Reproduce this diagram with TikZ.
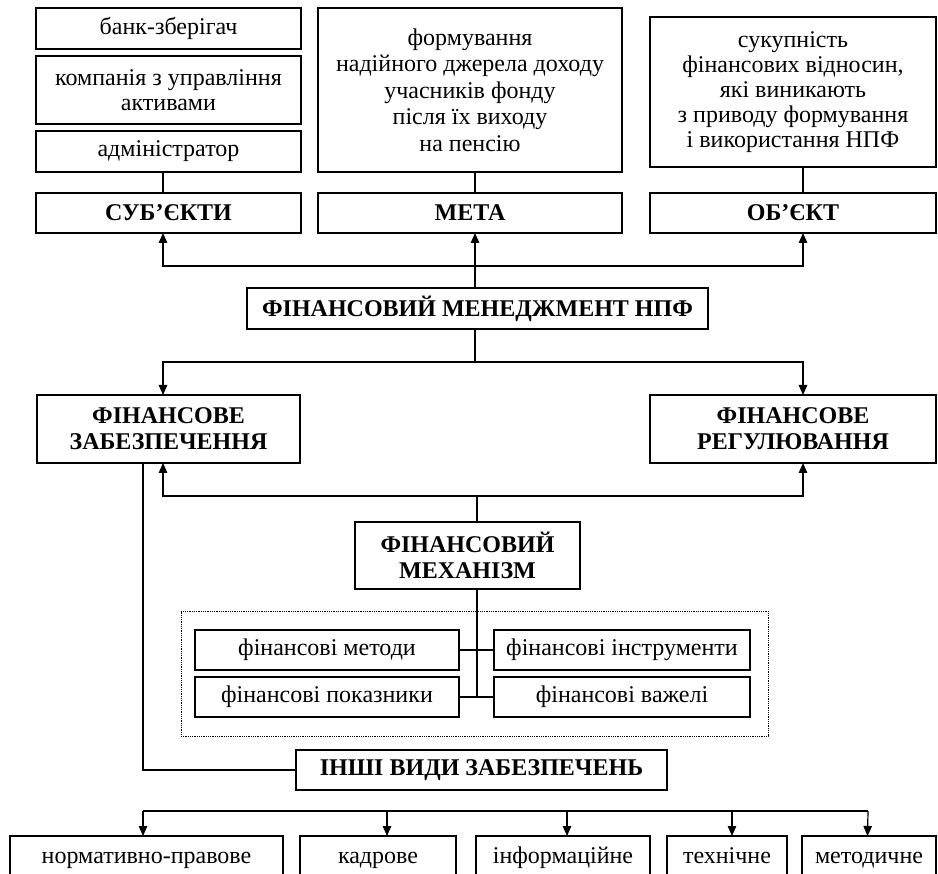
\documentclass[tikz,border=0pt]{standalone}
\usepackage{fontspec}
\setmainfont{Liberation Serif}
\newfontfamily\tnr{Liberation Serif}
\usetikzlibrary{arrows.meta,calc}
\begin{document}
\begin{tikzpicture}[x=1pt,y=-1pt,
  every node/.style={inner sep=0pt,outer sep=0pt},
  box/.style={draw,line width=1.2pt,rectangle,align=center,font=\tnr\fontsize{24}{25}\selectfont},
  bbox/.style={box,font=\tnr\fontsize{24}{26}\selectfont\bfseries},
  txt/.style={rectangle,align=center,font=\tnr\fontsize{24}{25}\selectfont,text height=16pt,text depth=6pt},
  ln/.style={line width=1.2pt},
  arr/.style={line width=1.2pt,-{Triangle[length=10pt,width=8.5pt]}},
  dotbox/.style={draw,line width=0.8pt,densely dotted}]
\useasboundingbox (0,0) rectangle (938,874);
\clip (0,0) rectangle (938,874);
% top row
\node[box,minimum width=265,minimum height=41] (s1) at (168.5,28.5) {банк-зберігач};
\node[box,minimum width=265,minimum height=68] (s2) at (168.5,90) {компанія з управління\\активами};
\node[box,minimum width=265,minimum height=41] (s3) at (168.5,151.5) {адміністратор};
\node[bbox,minimum width=265,minimum height=40] (subj) at (168.5,213) {СУБ’ЄКТИ};
\node[box,minimum width=304,minimum height=164,font=\tnr\fontsize{24}{26.5}\selectfont] (goaltxt) at (470,90) {формування\\надійного джерела доходу\\учасників фонду\\після їх виходу\\на пенсію};
\node[bbox,minimum width=304,minimum height=40] (goal) at (470,213) {МЕТА};
\node[box,minimum width=286,minimum height=150] (objtxt) at (793,92) {сукупність\\фінансових відносин,\\які виникають\\з приводу формування\\і використання НПФ};
\node[bbox,minimum width=286,minimum height=40] (obj) at (793,213) {ОБ’ЄКТ};
\draw[ln] ([xshift=-5.5pt]s3.south) -- ([xshift=-5.5pt]subj.north);
\draw[ln] ([xshift=5pt]goaltxt.south) -- ([xshift=5pt]goal.north);
\draw[ln] ([xshift=10pt]objtxt.south) -- ([xshift=10pt]obj.north);
% main
\node[bbox,minimum width=461,minimum height=41] (main) at (477.5,308.5) {ФІНАНСОВИЙ МЕНЕДЖМЕНТ НПФ};
\coordinate (j1) at (475,266);
\draw[arr] ([xshift=-2.5pt]main.north) -- ([xshift=5pt]goal.south);
\draw[arr] (j1) -| ([xshift=-5.5pt]subj.south);
\draw[arr] (j1) -| ([xshift=10pt]obj.south);
% second level
\node[bbox,minimum width=263,minimum height=68] (fz) at (168.5,429) {ФІНАНСОВЕ\\ЗАБЕЗПЕЧЕННЯ};
\node[bbox,minimum width=286,minimum height=68] (fr) at (793,429) {ФІНАНСОВЕ\\РЕГУЛЮВАННЯ};
\coordinate (j2) at (475,362);
\draw[ln] ([xshift=-2.5pt]main.south) -- (j2);
\draw[arr] (j2) -| ([xshift=-5.5pt]fz.north);
\draw[arr] (j2) -| ([xshift=10pt]fr.north);
% mechanism
\node[bbox,minimum width=225,minimum height=67] (mech) at (467.5,555.5) {ФІНАНСОВИЙ\\МЕХАНІЗМ};
\coordinate (j3) at (477,496);
\draw[ln] ([xshift=9.5pt]mech.north) -- (j3);
\draw[arr] (j3) -| ([xshift=-5.5pt]fz.south);
\draw[arr] (j3) -| ([xshift=10pt]fr.south);
\node[dotbox,minimum width=587,minimum height=125] (dots) at (474.5,673.5) {};
\node[box,minimum width=264,minimum height=40] (m1) at (327,650) {фінансові методи};
\node[box,minimum width=264,minimum height=40] (m2) at (327,697) {фінансові показники};
\node[box,minimum width=256,minimum height=40] (m3) at (622,650) {фінансові інструменти};
\node[box,minimum width=256,minimum height=40] (m4) at (622,697) {фінансові важелі};
\coordinate (j4) at (477,697);
\draw[ln] ([xshift=9.5pt]mech.south) -- (j4);
\draw[ln] (m1.east) -- (m3.west);
\draw[ln] (m2.east) -- (m4.west);
% other kinds
\node[bbox,minimum width=371,minimum height=40] (other) at (481.5,770) {ІНШІ ВИДИ ЗАБЕЗПЕЧЕНЬ};
\draw[ln] ([xshift=-25.5pt]fz.south) |- (other.west);
\node[txt,minimum width=273,minimum height=44] (b1) at (146.5,858) {нормативно-правове};
\node[txt,minimum width=156,minimum height=44] (b2) at (378,858) {кадрове};
\node[txt,minimum width=174,minimum height=44] (b3) at (563,858) {інформаційне};
\node[txt,minimum width=120,minimum height=44] (b4) at (727,858) {технічне};
\node[txt,minimum width=134,minimum height=44] (b5) at (869,858) {методичне};
\foreach \b in {b1,b2,b3,b4,b5}
  \draw[ln] (\b.south west) |- (\b.north east) -- (\b.south east);
\coordinate (j5) at (143,811);
\coordinate (j6) at (868,811);
\draw[ln] (j5) -- (j6);
\draw[arr] (j5) -- ([xshift=-3.5pt]b1.north);
\draw[arr] (j5 -| b2.north) ++(9,0) -- ([xshift=9pt]b2.north);
\draw[arr] (j5 -| b3.north) ++(4,0) -- ([xshift=4pt]b3.north);
\draw[arr] (j5 -| b4.north) ++(5,0) -- ([xshift=5pt]b4.north);
\draw[arr] (j6) -- ([xshift=-1.5pt]b5.north);
\end{tikzpicture}
\end{document}
